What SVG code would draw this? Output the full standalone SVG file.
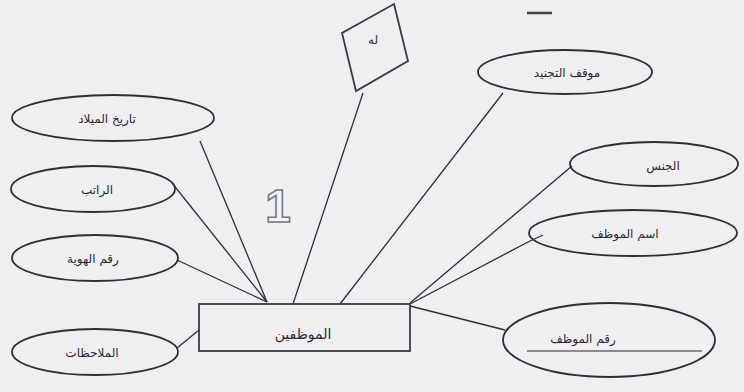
<svg xmlns="http://www.w3.org/2000/svg" width="744" height="392" viewBox="0 0 744 392">
<style>
.bg{fill:#efeff2}
.attr{fill:none;stroke:#2e2e33;stroke-width:1.8}
.ent{fill:none;stroke:#3a3a40;stroke-width:1.8}
.lnk{stroke:#2e2e33;stroke-width:1.3;fill:none}
.t{font-family:"DejaVu Sans","Noto Sans",sans-serif;font-size:12px;fill:#2a2a2e;text-anchor:middle}
.num{font-family:"Liberation Sans",Arial,sans-serif;font-size:46px;font-weight:bold;fill:#f4f4f6;stroke:#77777c;stroke-width:1.6;text-anchor:middle}
</style>
<rect class="bg" x="0" y="0" width="744" height="392"/>
<g id="connectors">
<line class="lnk" x1="200" y1="141" x2="267" y2="302"/>
<line class="lnk" x1="172" y1="183" x2="267" y2="302"/>
<line class="lnk" x1="177" y1="260" x2="267" y2="302"/>
<line class="lnk" x1="177" y1="348" x2="199" y2="330"/>
<line class="lnk" x1="363" y1="93" x2="293" y2="304"/>
<line class="lnk" x1="503" y1="93" x2="340" y2="304"/>
<line class="lnk" x1="572" y1="166" x2="410" y2="303"/>
<polyline class="lnk" points="543,235 530,241 410,304"/>
<line class="lnk" x1="410" y1="306" x2="505" y2="330"/>
</g>
<g id="employees">
<rect class="ent" x="199" y="304" width="211" height="47"/>
<text class="t" x="303" y="339" style="font-size:14px">الموظفين</text>
</g>
<g id="rel-has">
<polygon class="ent" points="394,4 408,61 356,91 342,33"/>
<text class="t" x="373" y="44">له</text>
</g>
<g id="attr-birthdate">
<ellipse class="attr" cx="113" cy="118" rx="101" ry="23"/>
<text class="t" x="107" y="123">تاريخ الميلاد</text>
</g>
<g id="attr-salary">
<ellipse class="attr" cx="93" cy="189" rx="82" ry="23"/>
<text class="t" x="97" y="194">الراتب</text>
</g>
<g id="attr-idnumber">
<ellipse class="attr" cx="95" cy="258" rx="83" ry="23"/>
<text class="t" x="93" y="263">رقم الهوية</text>
</g>
<g id="attr-notes">
<ellipse class="attr" cx="95" cy="352" rx="83" ry="23"/>
<text class="t" x="92" y="357">الملاحظات</text>
</g>
<g id="attr-military">
<ellipse class="attr" cx="565" cy="72" rx="87" ry="22"/>
<text class="t" x="567" y="77">موقف التجنيد</text>
</g>
<g id="attr-gender">
<ellipse class="attr" cx="654" cy="164" rx="84" ry="22"/>
<text class="t" x="663" y="170">الجنس</text>
</g>
<g id="attr-name">
<ellipse class="attr" cx="633" cy="233" rx="104" ry="23"/>
<text class="t" x="625" y="238">اسم الموظف</text>
</g>
<g id="attr-empno">
<ellipse class="attr" cx="609" cy="340" rx="106" ry="37"/>
<text class="t" x="583" y="343">رقم الموظف</text>
<line x1="527" y1="351" x2="702" y2="351" stroke="#6a6a70" stroke-width="1.5"/>
</g>
<g id="marks">
<text class="num" x="278" y="222">1</text>
<line x1="527" y1="13" x2="552" y2="13" stroke="#444" stroke-width="2.5"/>
</g>
</svg>
